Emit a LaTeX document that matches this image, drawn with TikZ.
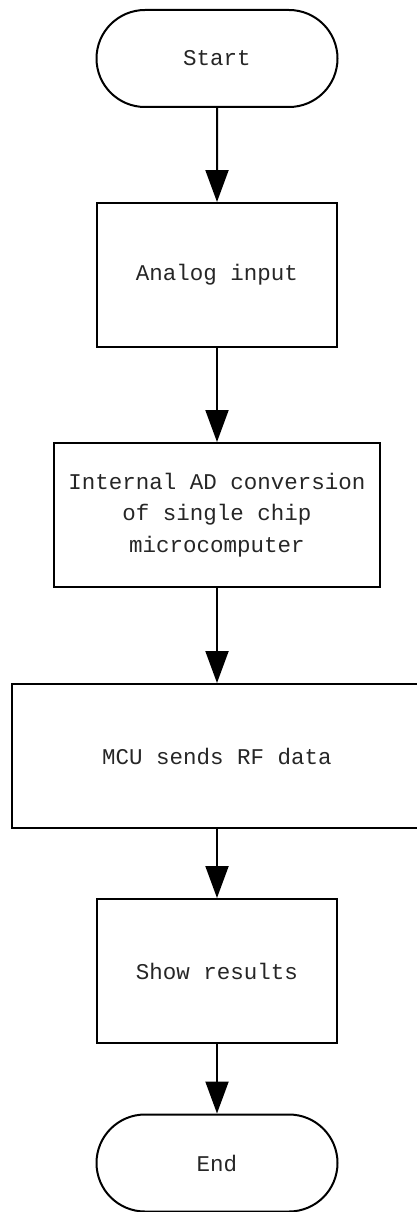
\documentclass[tikz,border=0pt]{standalone}
\usepackage{fontspec}
\setmonofont{Liberation Mono}
\usetikzlibrary{arrows.meta,shapes.misc}

\tikzset{
  every node/.style={font=\ttfamily\fontsize{22.5pt}{31.5pt}\selectfont, text=black!85, align=center},
  terminal/.style={draw, line width=2pt, rounded rectangle, minimum width=241pt, minimum height=97pt, inner sep=0pt},
  process/.style={draw, line width=2pt, rectangle, minimum height=144pt, inner sep=0pt},
  flow/.style={line width=2pt, -{Triangle[length=32pt,width=23pt]}}
}

\begin{document}
\begin{tikzpicture}[x=1pt,y=-1pt]
  \useasboundingbox (0,0) rectangle (416,1212);

  \node[terminal] (start) at (217,58.5) {Start};
  \node[process, minimum width=240pt] (analog) at (217,275) {Analog input};
  \node[process, minimum width=326pt] (adc) at (217,515)
    {Internal AD conversion\\of single chip\\microcomputer};
  \node[process, minimum width=410pt] (mcu) at (217,756) {MCU sends RF data};
  \node[process, minimum width=240pt] (show) at (217,971) {Show results};
  \node[terminal] (end) at (217,1163) {End};

  \draw[flow] (start) -- (analog);
  \draw[flow] (analog) -- (adc);
  \draw[flow] (adc) -- (mcu);
  \draw[flow] (mcu) -- (show);
  \draw[flow] (show) -- (end);
\end{tikzpicture}
\end{document}
